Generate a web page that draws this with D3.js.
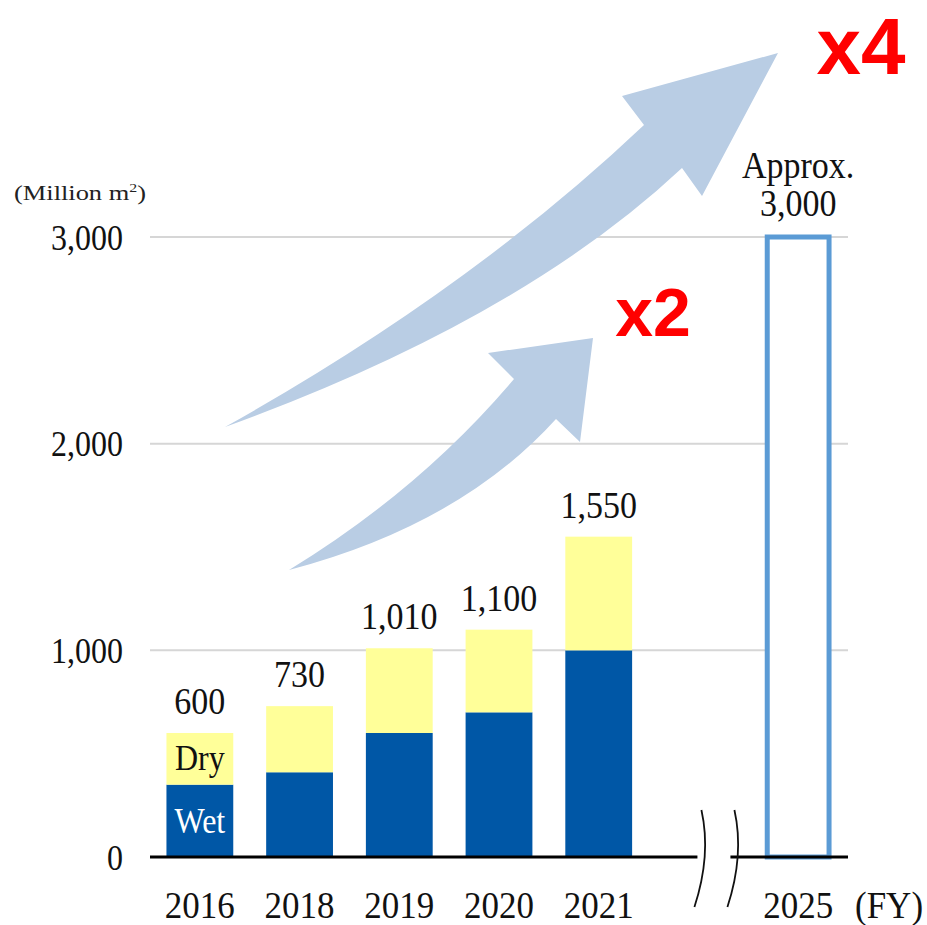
<!DOCTYPE html>
<html>
<head>
<meta charset="utf-8">
<script src="https://cdn.jsdelivr.net/npm/d3@7"></script>
<style>
  body { margin: 0; background: #fff; }
</style>
</head>
<body>
<svg id="chart" width="927" height="925"></svg>
<script>
var years = ["2016", "2018", "2019", "2020", "2021"];
var wet = [350, 410, 600, 700, 1000];
var dry = [250, 320, 410, 400, 550];
var totalLabels = ["600", "730", "1,010", "1,100", "1,550"];
var targetYear = "2025";
var targetValue = 3000;
var yTicks = [0, 1000, 2000, 3000];

var svg = d3.select("#chart");

var x = d3.scaleBand()
    .domain(years.concat(["gap", targetYear]))
    .range([150, 848])
    .paddingInner(0.33)
    .paddingOuter(0.165);

var y = d3.scaleLinear()
    .domain([0, 3000])
    .range([857, 237]);

var serif = "'Liberation Serif', 'Times New Roman', serif";
var sans = "'Liberation Sans', Arial, sans-serif";

// vertical stretch the serif text a bit like the source picture
function label(g, tx, ty, str, size, anchor, fill) {
    return g.append("text")
        .attr("transform", "translate(" + tx + "," + ty + ") scale(1,1.1)")
        .attr("text-anchor", anchor)
        .attr("font-size", size)
        .style("font-family", serif)
        .attr("fill", fill || "#111")
        .text(str);
}

// gridlines
svg.append("g").selectAll("line")
    .data(yTicks.filter(d => d > 0))
    .enter().append("line")
    .attr("x1", 150).attr("x2", 848)
    .attr("y1", d => y(d)).attr("y2", d => y(d))
    .attr("stroke", "#d6d6d6")
    .attr("stroke-width", 2);

// y axis labels
var yAxis = svg.append("g")
    .attr("transform", "translate(123,0)")
    .call(d3.axisLeft(y).tickValues(yTicks).tickSize(0).tickPadding(0).tickFormat(d3.format(",")));
yAxis.select(".domain").remove();
yAxis.selectAll("text")
    .style("font-family", serif)
    .attr("font-size", 32)
    .attr("fill", "#111")
    .attr("dy", "0.35em")
    .attr("transform", "scale(1,1.1)");

// unit label
var unit = svg.append("text")
    .attr("x", 14).attr("y", 200)
    .attr("font-size", 20)
    .style("font-family", serif)
    .attr("fill", "#222")
    .attr("textLength", 132)
    .attr("lengthAdjust", "spacingAndGlyphs");
unit.append("tspan").text("(Million m");
unit.append("tspan").attr("font-size", 12).attr("dy", -8).text("2");
unit.append("tspan").attr("dy", 8).text(")");

// growth arrows
var arrows = svg.append("g").attr("fill", "#b9cde4");
var big = d3.path();
big.moveTo(225, 427);
big.quadraticCurveTo(470, 290, 644, 125);
big.lineTo(622, 96);
big.lineTo(778, 53);
big.lineTo(702, 196);
big.lineTo(682, 168);
big.quadraticCurveTo(520, 320, 225, 427);
big.closePath();
arrows.append("path").attr("d", big.toString());

var small = d3.path();
small.moveTo(289, 570);
small.quadraticCurveTo(420, 490, 514, 379);
small.lineTo(488, 353);
small.lineTo(593, 338);
small.lineTo(580, 442);
small.lineTo(556, 419);
small.quadraticCurveTo(460, 525, 289, 570);
small.closePath();
arrows.append("path").attr("d", small.toString());

// multipliers
svg.append("text").attr("x", 861).attr("y", 74)
    .attr("text-anchor", "middle")
    .style("font-family", sans)
    .attr("font-weight", "bold").attr("font-size", 80)
    .attr("fill", "#ff0000").text("x4");
svg.append("text").attr("x", 653).attr("y", 336)
    .attr("text-anchor", "middle")
    .style("font-family", sans)
    .attr("font-weight", "bold").attr("font-size", 68)
    .attr("fill", "#ff0000").text("x2");

// stacked bars
var bars = svg.append("g");
bars.selectAll("rect.wet")
    .data(years)
    .enter().append("rect")
    .attr("class", "wet")
    .attr("x", d => x(d))
    .attr("width", x.bandwidth())
    .attr("y", (d, i) => y(wet[i]))
    .attr("height", (d, i) => y(0) - y(wet[i]))
    .attr("fill", "#0057a6");

bars.selectAll("rect.dry")
    .data(years)
    .enter().append("rect")
    .attr("class", "dry")
    .attr("x", d => x(d))
    .attr("width", x.bandwidth())
    .attr("y", (d, i) => y(wet[i] + dry[i]))
    .attr("height", (d, i) => y(wet[i]) - y(wet[i] + dry[i]))
    .attr("fill", "#ffff99");

// 2025 target bar (outline)
bars.append("rect")
    .attr("x", x(targetYear) + 2.5)
    .attr("width", x.bandwidth() - 5)
    .attr("y", y(targetValue))
    .attr("height", y(0) - y(targetValue))
    .attr("fill", "#fff")
    .attr("stroke", "#5b9bd5")
    .attr("stroke-width", 5);

// total labels
var labels = svg.append("g");
years.forEach(function(yr, i) {
    label(labels, x(yr) + x.bandwidth() / 2, y(wet[i] + dry[i]) - 19, totalLabels[i], 34, "middle");
});
label(labels, x(targetYear) + x.bandwidth() / 2, 178, "Approx.", 34, "middle");
label(labels, x(targetYear) + x.bandwidth() / 2, y(targetValue) - 21, "3,000", 34, "middle");

// series names inside first bar
var c0 = x(years[0]) + x.bandwidth() / 2;
label(labels, c0, y((wet[0] + wet[0] + dry[0]) / 2) + 11, "Dry", 32, "middle", "#111");
label(labels, c0, y(wet[0] / 2) + 12, "Wet", 32, "middle", "#fff");

// baseline with break
var gx = x("gap") + x.bandwidth() / 2;
svg.append("line")
    .attr("x1", 150).attr("x2", gx - 1)
    .attr("y1", y(0)).attr("y2", y(0))
    .attr("stroke", "#000").attr("stroke-width", 3);
svg.append("line")
    .attr("x1", gx + 32).attr("x2", 848)
    .attr("y1", y(0)).attr("y2", y(0))
    .attr("stroke", "#000").attr("stroke-width", 3);
[gx + 3, gx + 36].forEach(function(bx) {
    var p = d3.path();
    p.moveTo(bx, 810);
    p.quadraticCurveTo(bx + 10, 855, bx - 7, 907);
    svg.append("path").attr("d", p.toString())
        .attr("fill", "none").attr("stroke", "#111").attr("stroke-width", 1.8);
});

// x labels
var xl = svg.append("g");
years.concat([targetYear]).forEach(function(yr) {
    label(xl, x(yr) + x.bandwidth() / 2, 918, yr, 35, "middle");
});
label(xl, 855, 918, "(FY)", 35, "start");
</script>
</body>
</html>
